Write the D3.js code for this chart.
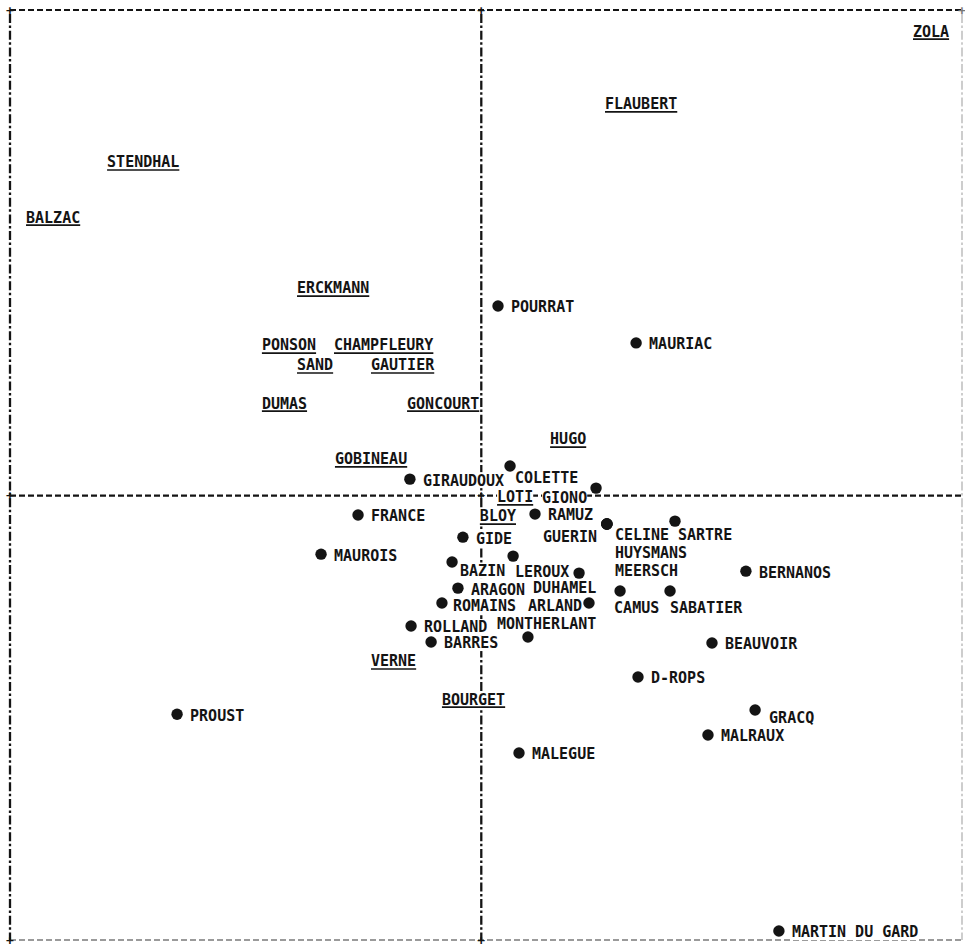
<!DOCTYPE html>
<html><head><meta charset="utf-8">
<script src="https://cdn.jsdelivr.net/npm/d3@7"></script>
<style>body{margin:0;background:#fff}svg{display:block}</style>
</head><body><svg id="c" width="965" height="951"></svg>
<script>
// 19th-century authors: underlined labels, no marker
const classicNames = ["ZOLA","FLAUBERT","STENDHAL","BALZAC","ERCKMANN","PONSON","CHAMPFLEURY","SAND","GAUTIER","DUMAS","GONCOURT","GOBINEAU","HUGO","LOTI","BLOY","VERNE","BOURGET"];
const classicX = [1.832,0.525,-1.588,-1.932,-0.782,-0.931,-0.625,-0.782,-0.468,-0.931,-0.315,-0.621,0.292,0.067,-0.006,-0.468,-0.167];
const classicY = [1.913,1.613,1.374,1.147,0.855,0.620,0.620,0.538,0.538,0.381,0.381,0.151,0.233,-0.005,-0.084,-0.681,-0.838];

// 20th-century authors: dot marker + label
const modernNames = ["POURRAT","MAURIAC","GIRAUDOUX","COLETTE","GIONO","FRANCE","RAMUZ","GUERIN","CELINE","SARTRE","HUYSMANS","MEERSCH","GIDE","MAUROIS","BAZIN","LEROUX","DUHAMEL","ARAGON","ROMAINS","ARLAND","ROLLAND","MONTHERLANT","BARRES","CAMUS","SABATIER","BERNANOS","BEAUVOIR","D-ROPS","GRACQ","MALRAUX","PROUST","MALEGUE","MARTIN DU GARD"];
const modernX = [0.071,0.657,-0.303,0.122,0.487,-0.523,0.228,0.533,0.533,0.822,0.533,0.533,-0.078,-0.680,-0.124,0.135,0.415,-0.099,-0.167,0.457,-0.298,0.198,-0.213,0.589,0.801,1.123,0.979,0.665,1.162,0.962,-1.291,0.160,1.263];
const modernY = [0.781,0.629,0.068,0.122,0.031,-0.080,-0.076,-0.117,-0.117,-0.105,-0.117,-0.117,-0.171,-0.241,-0.273,-0.249,-0.319,-0.381,-0.442,-0.442,-0.537,-0.582,-0.603,-0.393,-0.393,-0.311,-0.607,-0.747,-0.883,-0.986,-0.900,-1.060,-1.793];

const xDomain = [-2.00, 2.04];
const yDomain = [-1.83, 2.00];

// label layout (pixel offsets of label from its dot); default is to the right
const labelOffset = {
  COLETTE:[5,12], GIONO:[-54,9], GUERIN:[-64,13], CELINE:[8,11], SARTRE:[3,13],
  HUYSMANS:[8,29], MEERSCH:[8,47], BAZIN:[8,9], LEROUX:[2,15], DUHAMEL:[-46,15],
  ROMAINS:[11,3], ARLAND:[-61,3], MONTHERLANT:[-31,-13], CAMUS:[-6,17], SABATIER:[0,17], GRACQ:[14,8]
};
const defaultOffset = [13,1];

const svg = d3.select("#c");
const L = 10, R = 962, T = 10, B = 940;
const x = d3.scaleLinear().domain(xDomain).range([L, R]);
const y = d3.scaleLinear().domain(yDomain).range([B, T]);

const ink = "#141414";
const font = "'DejaVu Sans Mono', monospace";

// frame
const hDash = "6,3", vDash = "9,2.5,2.5,2.7";
function hline(y0, x0, x1, col, w){ svg.append("line").attr("x1",x0).attr("x2",x1).attr("y1",y0).attr("y2",y0)
  .attr("stroke",col).attr("stroke-width",w).attr("stroke-dasharray",hDash); }
function vline(x0, y0, y1, col, w){ svg.append("line").attr("x1",x0).attr("x2",x0).attr("y1",y0).attr("y2",y1)
  .attr("stroke",col).attr("stroke-width",w).attr("stroke-dasharray",vDash); }

hline(T, L, R, ink, 2.1);
hline(B, L, R, "#7a7a7a", 1.6);
vline(L, T+4, B, ink, 2.3);
vline(R, T+4, B, "#bdbdbd", 1.5);
// axes through origin
hline(y(0), L, R, ink, 2.1);
vline(x(0), T+4, B, ink, 2.3);

// plus marks
function plus(px, py, col){
  svg.append("text").attr("x",px).attr("y",py).attr("dy","0.36em").attr("text-anchor","middle")
    .attr("font-family",font).attr("font-size",13).attr("font-weight","bold").attr("fill",col).text("+");
}
plus(L, T, ink); plus(x(0), T, ink); plus(R, T, "#777");
plus(L, y(0), ink); plus(x(0), y(0), ink);
plus(L, B, ink); plus(x(0), B, ink);

const fs = 15;
const labels = svg.append("g");
const dots = svg.append("g");

function addLabel(name, px, py, underline){
  const g = labels.append("g");
  const bg = g.append("rect").attr("fill","#fff");
  const t = g.append("text").attr("x",px).attr("y",py).attr("dy","0.36em")
    .attr("font-family",font).attr("font-size",fs).attr("font-weight","bold")
    .attr("fill",ink).text(name);
  const w = t.node().getComputedTextLength();
  bg.attr("x",px).attr("y",py-8).attr("width",w).attr("height",16);
  if(underline){
    g.append("line").attr("x1",px).attr("x2",px+w).attr("y1",py+8).attr("y2",py+8)
      .attr("stroke",ink).attr("stroke-width",1.7);
  }
}

classicNames.forEach((n,i)=> addLabel(n, x(classicX[i]), y(classicY[i]), true));

modernNames.forEach((n,i)=>{
  const px = x(modernX[i]), py = y(modernY[i]);
  const o = labelOffset[n] || defaultOffset;
  addLabel(n, px+o[0], py+o[1], false);
});

dots.selectAll("circle").data(modernNames.map((n,i)=>({n, x:modernX[i], y:modernY[i]})))
  .enter().append("circle")
  .attr("cx", d=>x(d.x)).attr("cy", d=>y(d.y)).attr("r",5.7).attr("fill",ink);
</script></body></html>
